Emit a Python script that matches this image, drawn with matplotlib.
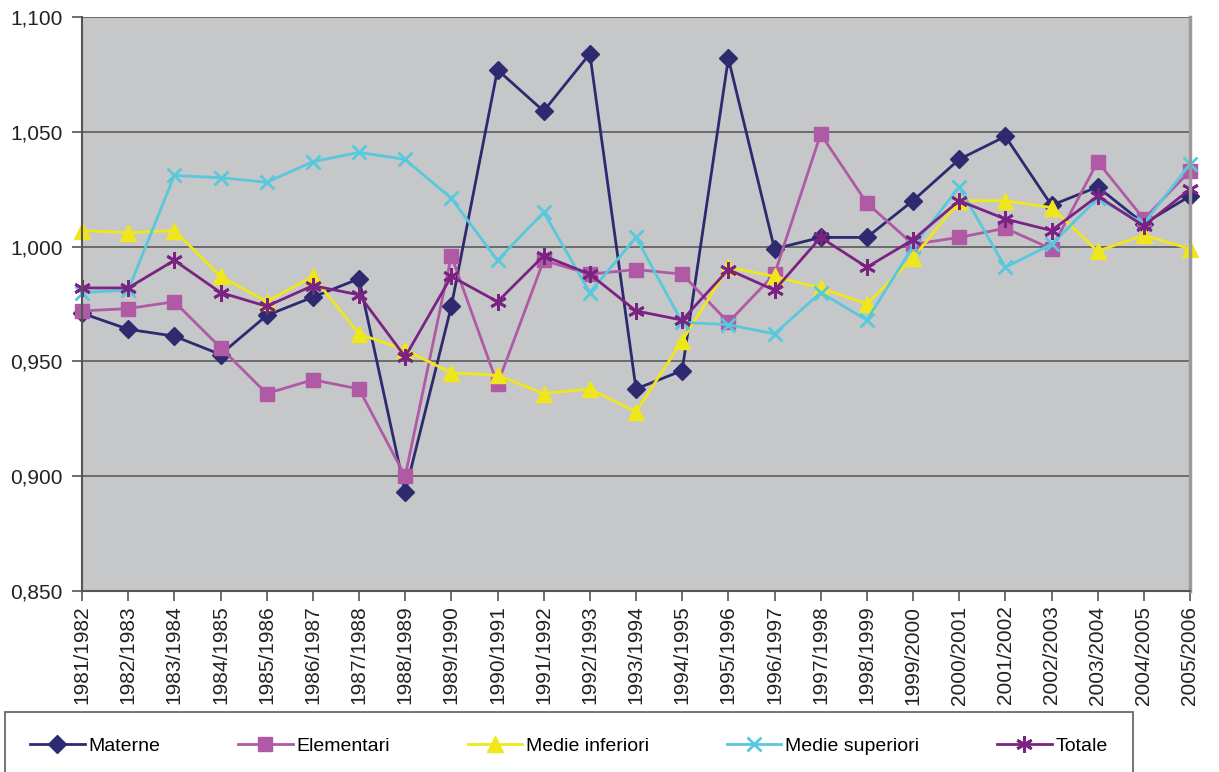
import matplotlib
matplotlib.use("Agg")
import matplotlib.pyplot as plt
import numpy as np

plt.rcParams['font.family'] = ['Liberation Sans', 'DejaVu Sans']

# anni scolastici
anni = ['1981/1982', '1982/1983', '1983/1984', '1984/1985', '1985/1986',
        '1986/1987', '1987/1988', '1988/1989', '1989/1990', '1990/1991',
        '1991/1992', '1992/1993', '1993/1994', '1994/1995', '1995/1996',
        '1996/1997', '1997/1998', '1998/1999', '1999/2000', '2000/2001',
        '2001/2002', '2002/2003', '2003/2004', '2004/2005', '2005/2006']

materne = [0.971, 0.964, 0.961, 0.953, 0.970, 0.978, 0.986, 0.893, 0.974, 1.077,
           1.059, 1.084, 0.938, 0.946, 1.082, 0.999, 1.004, 1.004, 1.020, 1.038,
           1.048, 1.018, 1.026, 1.010, 1.022]
elementari = [0.972, 0.973, 0.976, 0.956, 0.936, 0.942, 0.938, 0.900, 0.996, 0.940,
              0.994, 0.988, 0.990, 0.988, 0.967, 0.988, 1.049, 1.019, 1.001, 1.004,
              1.008, 0.999, 1.037, 1.012, 1.033]
medie_inf = [1.007, 1.006, 1.007, 0.987, 0.976, 0.987, 0.962, 0.955, 0.945, 0.944,
             0.936, 0.938, 0.928, 0.959, 0.991, 0.987, 0.982, 0.975, 0.995, 1.020,
             1.020, 1.017, 0.998, 1.005, 0.999]
medie_sup = [0.980, 0.981, 1.031, 1.030, 1.028, 1.037, 1.041, 1.038, 1.021, 0.994,
             1.015, 0.980, 1.004, 0.967, 0.966, 0.962, 0.980, 0.968, 1.000, 1.026,
             0.991, 1.001, 1.021, 1.010, 1.036]
totale = [0.982, 0.982, 0.994, 0.980, 0.974, 0.983, 0.979, 0.952, 0.987, 0.976,
          0.996, 0.988, 0.972, 0.968, 0.990, 0.981, 1.004, 0.991, 1.003, 1.020,
          1.012, 1.007, 1.022, 1.009, 1.025]

y_ticks = [0.850, 0.900, 0.950, 1.000, 1.050, 1.100]

fig = plt.figure(figsize=(12.19, 7.72), dpi=100)
ax = fig.add_axes([82/1219, 1-591/772, (1190-82)/1219, (591-17)/772])
ax.set_facecolor('#c6c7c9')

x = np.arange(len(anni))
lw = 2.0
l1, = ax.plot(x, materne, color='#2d2a70', lw=lw, marker='D', ms=9.5, clip_on=False, label='Materne')
l2, = ax.plot(x, elementari, color='#b05aa6', lw=lw, marker='s', ms=10, clip_on=False, label='Elementari')
l3, = ax.plot(x, medie_inf, color='#efe61c', lw=lw, marker='^', ms=11, clip_on=False, label='Medie inferiori')
l4, = ax.plot(x, medie_sup, color='#58c8dc', lw=lw, marker='x', ms=10, mew=2, clip_on=False, label='Medie superiori')
l5, = ax.plot(x, totale, color='#7b2383', lw=lw, marker=(6, 2, 0), ms=12, mew=2, clip_on=False, label='Totale')

ax.set_xlim(0, len(anni) - 1)
ax.set_ylim(0.85, 1.10)
ax.set_yticks(y_ticks)
ax.set_yticklabels([f'{v:.3f}'.replace('.', ',') for v in y_ticks], fontsize=15)
ax.set_xticks(x)
ax.set_xticklabels(anni, rotation=90, fontsize=15)
ax.yaxis.grid(True, color='#6b6b6b', lw=1.4)
ax.set_axisbelow(True)
ax.tick_params(axis='both', direction='out', length=7, width=1.2, color='#555555', colors='#222222')
ax.tick_params(axis='y', pad=7)

ax.spines['top'].set_visible(False)
ax.spines['left'].set_color('#555555')
ax.spines['left'].set_linewidth(1.5)
ax.spines['bottom'].set_color('#555555')
ax.spines['bottom'].set_linewidth(1.5)
ax.spines['right'].set_color('#9a9a9a')
ax.spines['right'].set_linewidth(2.5)

# legenda in basso
leg = fig.legend(handles=[l1, l2, l3, l4, l5], loc='upper left',
                 bbox_to_anchor=(5/1219, 1-712/772, 1128/1219, 0.0), mode='expand',
                 ncol=5, fontsize=14, frameon=True, fancybox=False, borderpad=1.3,
                 handlelength=2.8, handletextpad=0.2, borderaxespad=0)
leg.get_frame().set_edgecolor('#333333')
leg.get_frame().set_linewidth(1.2)

fig.savefig('out.png', dpi=100)
